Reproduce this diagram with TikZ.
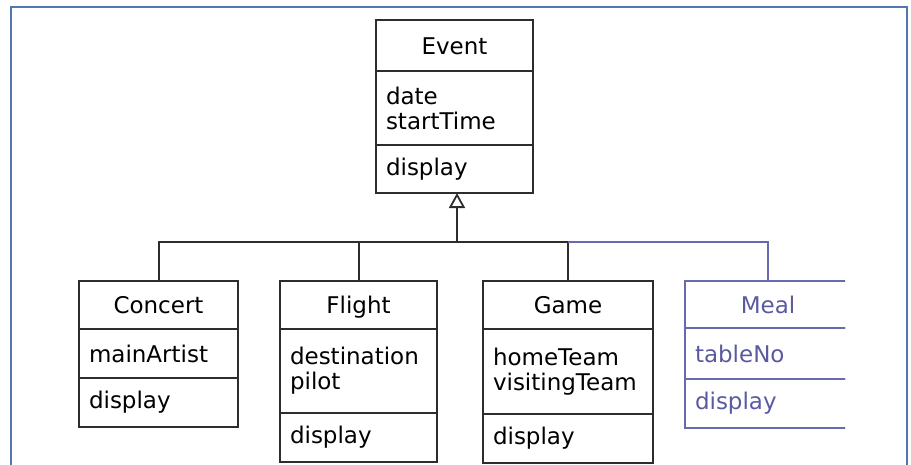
\documentclass[tikz,border=0pt]{standalone}
\usepackage{xcolor}
\usepackage{fontspec}
\usepackage{tikz}
\usetikzlibrary{arrows.meta, positioning}

\newfontfamily\umlfont{DejaVu Sans}
\definecolor{umlgray}{RGB}{45,45,45}
\definecolor{frameblue}{RGB}{80,120,175}
\definecolor{mealblue}{RGB}{105,105,175}
\definecolor{mealtext}{RGB}{90,90,160}

\begin{document}
\begin{tikzpicture}[%
    x=1pt, y=-1pt,
    part/.style={draw=umlgray, line width=2pt, inner xsep=10pt, inner ysep=0pt,
                 outer sep=0pt, font={\umlfont\fontsize{23}{25}\selectfont}},
    classname/.style={part, align=center, text height=17pt, text depth=0pt},
    classbody/.style={part, align=left},
    genline/.style={draw=umlgray, line width=2pt},
    Gen/.style={-{Triangle[open, length=15pt, width=16pt, line width=1.8pt]}},
                        ]
    \useasboundingbox (0,0) rectangle (911,464);
    % outer frame, open at the bottom
    \draw[frameblue, line width=2pt] (11,470) -- (11,7) -- (907,7) -- (907,470);

    % super class
    \node[classname, anchor=north west, minimum width=157pt, text width=137pt, minimum height=51pt]
        (event_name) at (376,20) {Event};
    \node[classbody, below=0pt of event_name, minimum width=157pt, text width=137pt, minimum height=74pt]
        (event_attr) {date\\startTime};
    \node[classbody, below=0pt of event_attr, minimum width=157pt, text width=137pt, minimum height=48pt]
        (event_meth) {display};

    % sub classes
    \node[classname, anchor=north west, minimum width=159pt, text width=139pt, minimum height=48pt]
        (concert_name) at (79,281) {Concert};
    \node[classbody, below=0pt of concert_name, minimum width=159pt, text width=139pt, minimum height=49pt]
        (concert_attr) {mainArtist};
    \node[classbody, below=0pt of concert_attr, minimum width=159pt, text width=139pt, minimum height=49pt]
        (concert_meth) {display};

    \node[classname, anchor=north west, minimum width=157pt, text width=137pt, minimum height=48pt]
        (flight_name) at (280,281) {Flight};
    \node[classbody, below=0pt of flight_name, minimum width=157pt, text width=137pt, minimum height=84pt]
        (flight_attr) {destination\\pilot};
    \node[classbody, below=0pt of flight_attr, minimum width=157pt, text width=137pt, minimum height=49pt]
        (flight_meth) {display};

    \node[classname, anchor=north west, minimum width=170pt, text width=150pt, minimum height=48pt]
        (game_name) at (483,281) {Game};
    \node[classbody, below=0pt of game_name, minimum width=170pt, text width=150pt, minimum height=85pt]
        (game_attr) {homeTeam\\visitingTeam};
    \node[classbody, below=0pt of game_attr, minimum width=170pt, text width=150pt, minimum height=49pt]
        (game_meth) {display};

    % the added class, cut off at the right
    \begin{scope}
        \clip (0,0) rectangle (845,464);
        \node[classname, draw=mealblue, text=mealtext, anchor=north west, minimum width=166pt, text width=146pt, minimum height=47pt]
            (meal_name) at (685,281) {Meal};
        \node[classbody, draw=mealblue, text=mealtext, below=0pt of meal_name, minimum width=166pt, text width=146pt, minimum height=51pt]
            (meal_attr) {tableNo};
        \node[classbody, draw=mealblue, text=mealtext, below=0pt of meal_attr, minimum width=166pt, text width=146pt, minimum height=49pt]
            (meal_meth) {display};
    \end{scope}

    % generalisation tree
    \coordinate (hub) at (457,242);
    \draw[genline] (concert_name.north) |- (hub);
    \draw[genline] (flight_name.north) -- (flight_name.north |- hub);
    \draw[genline] (game_name.north) |- (hub);
    \draw[genline, draw=mealblue] (meal_name.north) |- (game_name.north |- hub);
    \draw[genline, Gen] (hub) -- (hub |- event_meth.south);

\end{tikzpicture}
\end{document}
